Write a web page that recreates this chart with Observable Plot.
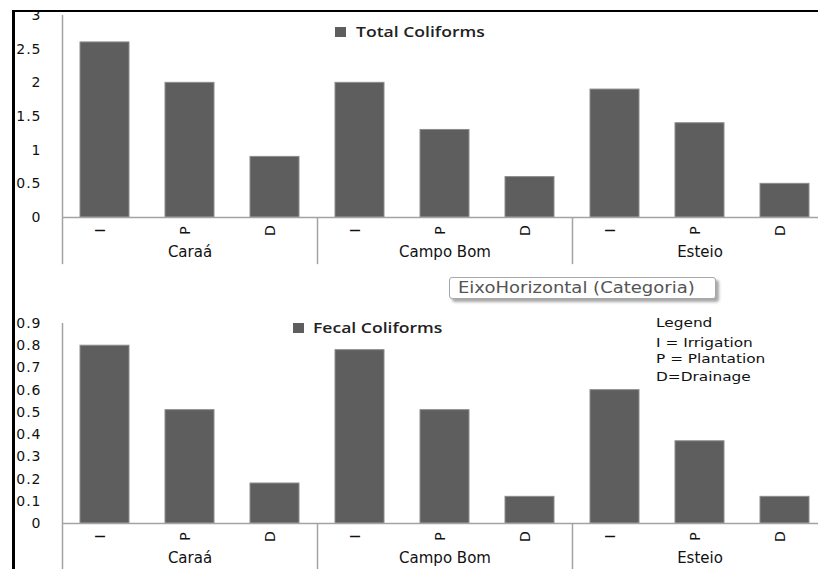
<!DOCTYPE html>
<html>
<head>
<meta charset="utf-8">
<script src="https://cdn.jsdelivr.net/npm/d3@7"></script>
<script src="https://cdn.jsdelivr.net/npm/@observablehq/plot@0.6"></script>
<style>
  html, body { margin: 0; padding: 0; background: #fff; }
  #wrap { position: relative; width: 818px; height: 569px; overflow: hidden; background: #fff; }
  #wrap svg { position: absolute; left: 0; }
  .leg { position: absolute; font-family: "Open Sans", sans-serif; font-weight: 600; font-size: 15px; color: #222; line-height: 1; white-space: nowrap; transform: scaleX(1.17); transform-origin: left center; }
  .sq { position: absolute; width: 11px; height: 10px; background: #5e5e5e; }
  .note { position: absolute; font-family: "DejaVu Sans", sans-serif; font-size: 13px; color: #111; line-height: 1; white-space: nowrap; transform: scaleX(1.18); transform-origin: left center; }
  #tip { position: absolute; left: 449px; top: 277px; width: 257px; height: 20px; border: 1px solid #a8a8a8; border-radius: 3px;
         background: #fff; box-shadow: 3px 3px 3px rgba(0,0,0,0.35); font-family: "DejaVu Sans", sans-serif; font-size: 15px;
         color: #555; line-height: 20px; padding-left: 8px; box-sizing: content-box; white-space: nowrap; overflow: hidden; }
  #tip span { display: inline-block; transform: scaleX(1.2); transform-origin: left center; }
  .border { position: absolute; background: #000; }
</style>
</head>
<body>
<div id="wrap"></div>
<script>
// ---- data ----
const sites = ["Caraá", "Campo Bom", "Esteio"];
const uses = ["I", "P", "D"];
const totalColiforms = [2.6, 2.0, 0.9, 2.0, 1.3, 0.6, 1.9, 1.4, 0.5];
const fecalColiforms = [0.8, 0.51, 0.18, 0.78, 0.51, 0.12, 0.6, 0.37, 0.12];
const totalTicks = [0, 0.5, 1, 1.5, 2, 2.5, 3];
const fecalTicks = [0, 0.1, 0.2, 0.3, 0.4, 0.5, 0.6, 0.7, 0.8, 0.9];
const totalLabel = "Total Coliforms";
const fecalLabel = "Fecal Coliforms";
const axisTitle = "EixoHorizontal (Categoria)";
const legendLines = ["Legend", "I = Irrigation", "P = Plantation", "D=Drainage"];

const keys = sites.flatMap(s => uses.map(u => s + "|" + u));
const firstKeys = sites.map(s => s + "|" + uses[0]);

function panel(values, ticks, yMax, height, marginTop, marginBottom, below) {
  const rows = keys.map((k, i) => ({key: k, site: k.split("|")[0], use: k.split("|")[1], value: values[i]}));
  const axisCol = "#a3a3a3";
  return Plot.plot({
    width: 818,
    height,
    marginLeft: 62,
    marginRight: 0,
    marginTop,
    marginBottom,
    x: {domain: keys, range: [62, 827], paddingInner: 0.42, paddingOuter: 0.21, axis: null},
    y: {domain: [0, yMax], axis: null},
    style: {fontFamily: "DejaVu Sans, sans-serif", background: "transparent", overflow: "hidden"},
    marks: [
      Plot.barY(rows, {x: "key", y: "value", fill: "#5e5e5e", stroke: "#8c8c8c", strokeWidth: 1}),
      Plot.ruleY([0], {stroke: axisCol, strokeWidth: 1.5}),
      Plot.ruleX(firstKeys, {x: d => d, dx: -42.5, y1: 0, y2: below, stroke: axisCol, strokeWidth: 1.5}),
      Plot.ruleX([keys[0]], {x: d => d, dx: -42.5, y1: yMax, y2: 0, stroke: axisCol, strokeWidth: 1.5}),
      Plot.axisY({ticks, tickSize: 0, tickPadding: 21, tickFormat: d => String(d), fontSize: 14, fill: "#111", label: null, textAnchor: "end", fontWeight: 500}),
      Plot.text(rows, {x: "key", text: "use", rotate: -90, frameAnchor: "bottom", dy: 13, fontSize: 14, fill: "#111"}),
      Plot.text(sites, {x: s => s + "|" + uses[1], text: d => d, frameAnchor: "bottom", dy: 39, fontSize: 15, fill: "#111"})
    ]
  });
}

const wrap = document.getElementById("wrap");

const top1 = panel(totalColiforms, totalTicks, 3, 270, 15, 53, -0.7);
top1.style.top = "0px";
wrap.appendChild(top1);

const bot = panel(fecalColiforms, fecalTicks, 0.9, 269, 23, 46, -0.25);
bot.style.top = "300px";
wrap.appendChild(bot);

// widen y tick labels slightly like the reference
wrap.querySelectorAll('g[aria-label="y-axis tick label"]').forEach(g => g.setAttribute("letter-spacing", "1"));

function add(html) { wrap.insertAdjacentHTML("beforeend", html); }

// legends
add(`<div class="sq" style="left:335px;top:27px"></div>`);
add(`<div class="leg" style="left:356px;top:24px">${totalLabel}</div>`);
add(`<div class="sq" style="left:293px;top:323px"></div>`);
add(`<div class="leg" style="left:313px;top:320px">${fecalLabel}</div>`);

// tooltip-like category title
add(`<div id="tip"><span>${axisTitle}</span></div>`);

// note legend
const noteY = [316, 336, 352, 370];
legendLines.forEach((t, i) => add(`<div class="note" style="left:656px;top:${noteY[i]}px">${t}</div>`));

// black frame edges
add(`<div class="border" style="left:12px;top:10px;width:806px;height:2px"></div>`);
add(`<div class="border" style="left:12px;top:10px;width:3px;height:559px"></div>`);
</script>
</body>
</html>
